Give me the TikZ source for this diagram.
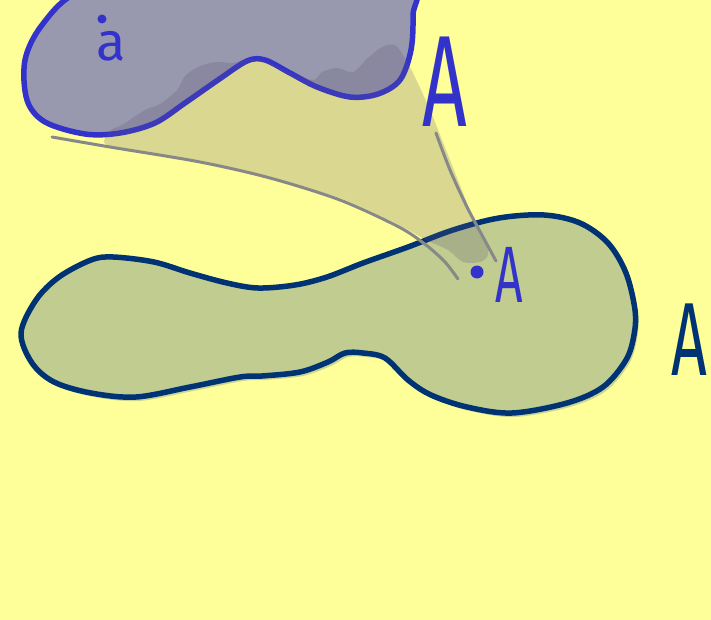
\documentclass[tikz,border=0pt]{standalone}
\usepackage{fontspec}
\newfontfamily\handfont{Fira Sans}
\definecolor{bgyellow}{RGB}{255,255,153}
\definecolor{purplefill}{RGB}{152,152,175}
\definecolor{purpleline}{RGB}{51,51,204}
\definecolor{greenfill}{RGB}{192,204,144}
\definecolor{greenshadow}{RGB}{204,214,146}
\definecolor{navyline}{RGB}{0,51,115}
\definecolor{conecol}{RGB}{92,85,118}
\definecolor{grayline}{RGB}{136,136,136}
\tikzset{
  blobline/.style={line width=5.5pt, line join=round, line cap=round},
  rayline/.style={grayline, line width=3pt, line cap=round},
  handletter/.style={inner sep=0pt, font=\handfont},
}
\begin{document}
\begin{tikzpicture}[x=1pt,y=-1pt]
\fill[bgyellow] (0,0) rectangle (711,620);
\useasboundingbox (0,0) rectangle (711,620);
\begin{scope}
\clip (0,0) rectangle (711,620);
% green blob shadow
\begin{scope}[shift={(3,4)}]
\fill[greenshadow] plot[smooth cycle, tension=0.55] coordinates {
 (21,333) (36,300) (59,277) (91,260) (113,257) (154,262) (190,273) (227,283)
 (258,288) (295,285) (327,277) (363,263) (408,247) (453,230) (499,218) (544,215)
 (580,223) (608,243) (626,273) (635,310) (634,335) (626,360) (603,387) (567,403)
 (512,413) (467,407) (431,395) (408,380) (385,358) (363,353) (345,353) (328,362)
 (300,372) (262,376) (240,377) (190,387) (136,397) (91,393) (54,382) (32,363)};
\end{scope}
% green blob
\filldraw[fill=greenfill, draw=navyline, blobline] plot[smooth cycle, tension=0.55] coordinates {
 (21,333) (36,300) (59,277) (91,260) (113,257) (154,262) (190,273) (227,283)
 (258,288) (295,285) (327,277) (363,263) (408,247) (453,230) (499,218) (544,215)
 (580,223) (608,243) (626,273) (635,310) (634,335) (626,360) (603,387) (567,403)
 (512,413) (467,407) (431,395) (408,380) (385,358) (363,353) (345,353) (328,362)
 (300,372) (262,376) (240,377) (190,387) (136,397) (91,393) (54,382) (32,363)};
% purple blob
\filldraw[fill=purplefill, draw=purpleline, blobline] plot[smooth cycle, tension=0.55] coordinates {
 (160,-30) (78,-8) (42,25) (25,60) (27,100) (45,122) (85,134) (120,133)
 (155,123) (185,103) (218,80) (247,61) (265,60) (290,73) (317,87) (350,97)
 (378,94) (400,80) (411,50) (413,15) (410,-20) (300,-40)};
% cone
\fill[conecol, fill opacity=0.23] plot[smooth cycle, tension=0.5] coordinates {
 (110,147) (110,131) (122,125) (145,110) (160,104) (177,90) (185,76) (200,66)
 (217,62) (233,63) (247,59) (267,62) (290,72) (313,80) (322,72) (337,68)
 (353,72) (368,58) (382,47) (395,45) (404,57) (413,73) (430,110) (450,160)
 (470,210) (485,240) (488,255) (480,262) (463,262) (448,250) (426,240)
 (399,225) (340,198) (270,178) (200,162)};
% rays
\draw[rayline] plot[smooth, tension=0.5] coordinates {
 (52,137) (110,147) (200,162) (270,178) (340,200) (399,227) (426,245) (445,262) (458,279)};
\draw[rayline] plot[smooth, tension=0.5] coordinates {
 (436,133) (450,170) (467,207) (483,237) (496,261)};
% points
\fill[purpleline] (102,19) circle (4.5);
\fill[purpleline] (477,272) circle (6.5);
% labels
\node[handletter, purpleline, anchor=base] (la) at (111,61) {\fontsize{54}{54}\selectfont a};
\node[handletter, purpleline, anchor=base, xscale=0.6] (lAtop) at (445,127) {\fontsize{130}{130}\selectfont A};
\node[handletter, purpleline, anchor=base, xscale=0.6] (lApt) at (509,302) {\fontsize{80}{80}\selectfont A};
\node[handletter, navyline, anchor=base, xscale=0.6] (lAright) at (689,375) {\fontsize{104}{104}\selectfont A};
\end{scope}
\end{tikzpicture}
\end{document}
